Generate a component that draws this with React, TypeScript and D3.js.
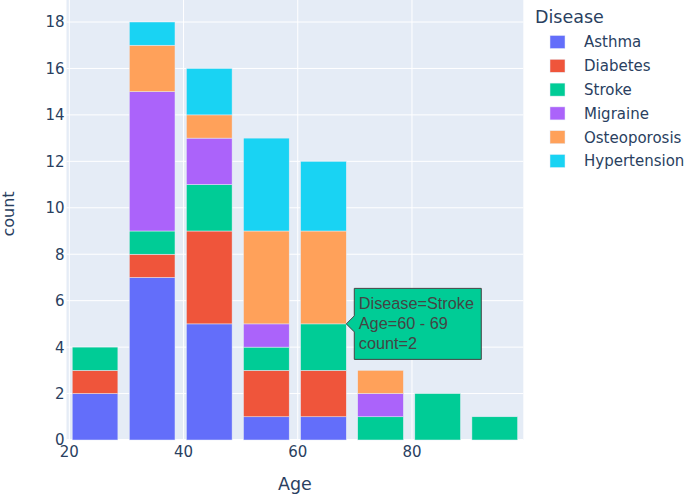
import React from "react";
import * as d3 from "d3";

const diseases = ["Asthma", "Diabetes", "Stroke", "Migraine", "Osteoporosis", "Hypertension"];
const colors = ["#636efa", "#EF553B", "#00cc96", "#ab63fa", "#FFA15A", "#19d3f3"];
const binStarts = [20, 30, 40, 50, 60, 70, 80, 90];
const asthma = [2, 7, 5, 1, 1, 0, 0, 0];
const diabetes = [1, 1, 4, 2, 2, 0, 0, 0];
const stroke = [1, 1, 2, 1, 2, 1, 2, 1];
const migraine = [0, 6, 2, 1, 0, 1, 0, 0];
const osteoporosis = [0, 2, 1, 4, 4, 1, 0, 0];
const hypertension = [0, 1, 2, 4, 3, 0, 0, 0];
const xTicks = [20, 40, 60, 80];
const yTicks = [0, 2, 4, 6, 8, 10, 12, 14, 16, 18];
const tooltipLines = ["Disease=Stroke", "Age=60 - 69", "count=2"];

const W = 685;
const H = 495;
const plotL = 66.5;
const plotR = 523.3;
const plotT = 0;
const plotB = 440;
const textColor = "#2a3f5f";
const font = "'DejaVu Sans', Verdana, sans-serif";

export default function App() {
  const series = [asthma, diabetes, stroke, migraine, osteoporosis, hypertension];
  const table = binStarts.map((b, i) => {
    const row: any = { bin: b };
    diseases.forEach((d, k) => (row[d] = series[k][i]));
    return row;
  });
  const stack = d3.stack().keys(diseases)(table as any);
  const x = d3.scaleLinear().domain([19.5, 99.5]).range([plotL, plotR]);
  const maxTotal = d3.max(table, (r: any) => diseases.reduce((s, d) => s + r[d], 0)) as number;
  const y = d3.scaleLinear().domain([0, maxTotal / 0.95]).range([plotB, plotT]);
  const binW = 10;
  const gap = 0.2;

  const strokeIdx = diseases.indexOf("Stroke");
  const binIdx = binStarts.indexOf(60);
  const seg = stack[strokeIdx][binIdx];
  const ax = x(binStarts[binIdx] - 0.5 + binW * (1 - gap / 2));
  const ay = y(seg[1]);
  const tx = ax + 8;
  const tw = 127;
  const th = 71;
  const tTop = ay - 35.5;

  return (
    <svg width={W} height={H} style={{ position: "absolute", left: 0, top: 0, background: "#fff" }}>
      <rect x={plotL} y={plotT} width={plotR - plotL} height={plotB - plotT} fill="#E5ECF6" />
      {yTicks.map((t) => (
        <line key={"gy" + t} x1={plotL} x2={plotR} y1={y(t)} y2={y(t)} stroke="#fff" strokeWidth={t === 0 ? 2 : 1} />
      ))}
      {xTicks.map((t) => (
        <line key={"gx" + t} x1={x(t)} x2={x(t)} y1={plotT} y2={plotB} stroke="#fff" strokeWidth={1} />
      ))}
      {stack.map((layer, k) => (
        <g key={diseases[k]} fill={colors[k]}>
          {layer.map((s, i) => {
            const h = y(s[0]) - y(s[1]);
            if (h <= 0) return null;
            const b = binStarts[i] - 0.5;
            const x0 = x(b + (binW * gap) / 2);
            const x1 = x(b + binW * (1 - gap / 2));
            return (
              <rect key={i} x={x0} y={y(s[1])} width={x1 - x0} height={h} stroke="#E5ECF6" strokeWidth={0.5} />
            );
          })}
        </g>
      ))}
      {yTicks.map((t) => (
        <text key={"ty" + t} x={plotL - 2} y={y(t)} dy="0.36em" textAnchor="end" fontSize={15} fill={textColor} fontFamily={font}>
          {t}
        </text>
      ))}
      {xTicks.map((t) => (
        <text key={"tx" + t} x={x(t)} y={457} textAnchor="middle" fontSize={15} fill={textColor} fontFamily={font}>
          {t}
        </text>
      ))}
      <text x={(plotL + plotR) / 2} y={490} textAnchor="middle" fontSize={17.5} fill={textColor} fontFamily={font}>
        Age
      </text>
      <text transform={`translate(13.5,214) rotate(-90)`} textAnchor="middle" fontSize={16} fill={textColor} fontFamily={font}>
        count
      </text>
      <text x={535} y={23} fontSize={17.5} fill={textColor} fontFamily={font}>
        Disease
      </text>
      {diseases.map((d, k) => (
        <g key={"lg" + d} transform={`translate(0,${42 + k * 23.8})`}>
          <rect x={550} y={-6.5} width={15} height={13} fill={colors[k]} stroke="#E5ECF6" strokeWidth={0.5} />
          <text x={584} y={0} dy="0.36em" fontSize={15} fill={textColor} fontFamily={font}>
            {d}
          </text>
        </g>
      ))}
      <path
        d={`M${ax},${ay} L${tx},${ay - 8} L${tx},${tTop} L${tx + tw},${tTop} L${tx + tw},${tTop + th} L${tx},${tTop + th} L${tx},${ay + 8} Z`}
        fill={colors[strokeIdx]}
        stroke="#444"
        strokeWidth={1}
      />
      {tooltipLines.map((l, i) => (
        <text key={"tt" + i} x={tx + 4.5} y={tTop + 20.5 + i * 20.3} fontSize={16.25} fill="#444" fontFamily="Arial, 'Liberation Sans', sans-serif">
          {l}
        </text>
      ))}
    </svg>
  );
}
